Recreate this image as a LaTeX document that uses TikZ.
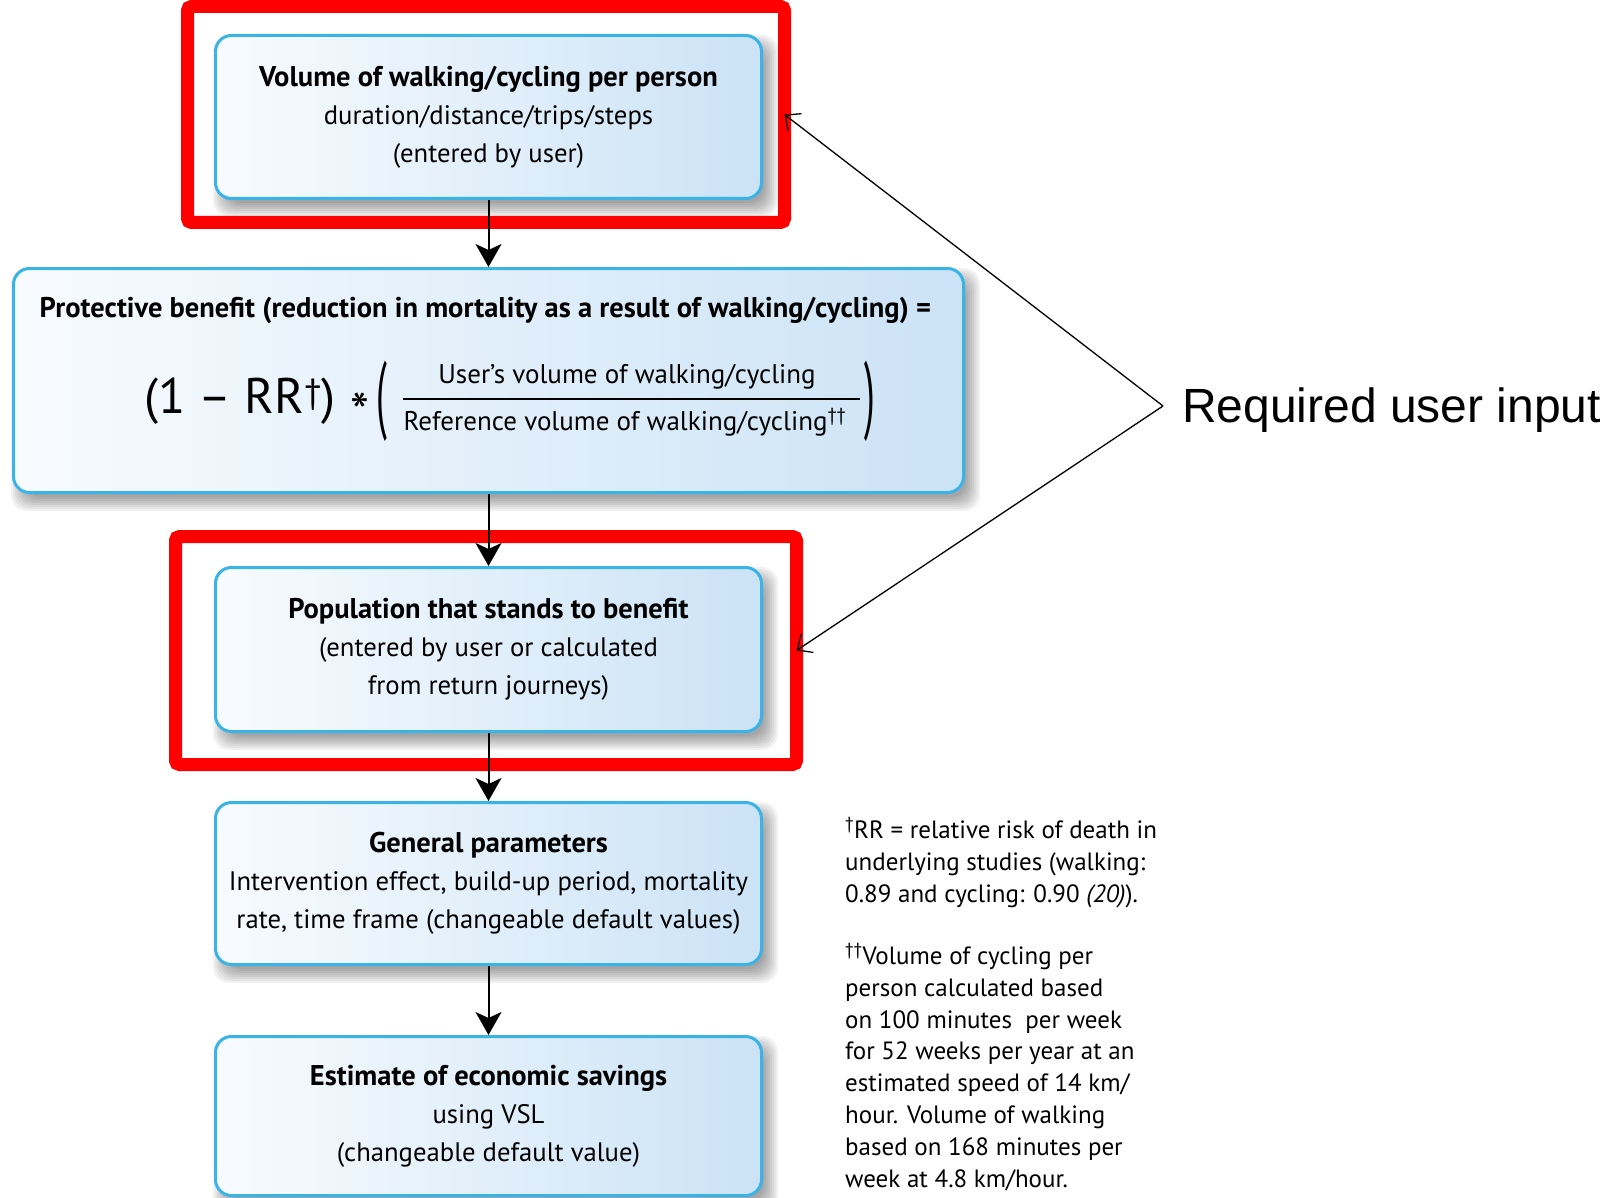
\documentclass[tikz,border=0pt]{standalone}
\usepackage{fontspec}
\setmainfont{PT Sans}
\newfontfamily\arialfont{Liberation Sans}
\usetikzlibrary{arrows.meta,calc,backgrounds}
\pgfdeclarelayer{paper}
\pgfsetlayers{paper,background,main}
\definecolor{boxborder}{HTML}{3AB3E6}
\definecolor{boxleft}{HTML}{F8FBFE}
\definecolor{boxright}{HTML}{CBE3F6}
\definecolor{redbox}{HTML}{FF0000}
\newcommand{\hd}[1]{{\fontsize{28.5}{38}\selectfont\bfseries #1}}
\tikzset{
  flowbox/.style={draw=boxborder, line width=3pt, rounded corners=16pt,
    left color=boxleft, right color=boxright, minimum width=546pt,
    align=center, inner sep=0pt, font=\fontsize{26.7}{38}\selectfont},
  redframe/.style={draw=redbox, line width=13pt, rounded corners=4pt,
    outer sep=0pt, inner sep=0pt},
  flowarrow/.style={draw=black, line width=2pt,
    -{Stealth[length=23pt,width=26pt,inset=6pt]}},
  inputarrow/.style={draw=black, line width=1.3pt,
    -{Straight Barb[length=12pt,width=22pt]}},
  note/.style={anchor=north west, align=left, inner sep=0pt,
    font=\fontsize{25}{31.8}\selectfont},
  boxtext/.style={inner sep=0pt, font=\fontsize{27}{38}\selectfont},
}
\begin{document}
\begin{tikzpicture}[x=1pt,y=-1pt]
\begin{pgfonlayer}{paper}
  \fill[white] (0,0) rectangle (1621,1198);
\end{pgfonlayer}
\useasboundingbox (0,0) rectangle (1621,1198);

% boxes
\node[flowbox, minimum height=163pt] (b1) at (488.5,117)
  {\hd{Volume of walking/cycling per person}\\
   duration/distance/trips/steps\\
   (entered by user)};
\node[flowbox, minimum width=950pt, minimum height=224pt] (b2) at (488.5,380.5) {};
\node[flowbox, minimum height=164pt] (b3) at (488.5,649.5)
  {\hd{Population that stands to benefit}\\
   (entered by user or calculated\\
   from return journeys)};
\node[flowbox, minimum height=162pt] (b4) at (488.5,883.5)
  {\hd{General parameters}\\
   Intervention effect, build-up period, mortality\\
   rate, time frame (changeable default values)};
\node[flowbox, minimum height=159pt] (b5) at (488.5,1116)
  {\hd{Estimate of economic savings}\\
   using VSL\\
   (changeable default value)};

% protective benefit contents
\node[boxtext, font=\bfseries\fontsize{28.5}{38}\selectfont] (title) at (485.5,310)
  {Protective benefit (reduction in mortality as a result of walking/cycling) =};
\node[inner sep=0pt, font=\fontsize{50}{50}\selectfont] (rr) at (240,401) {(1 – RR\textsuperscript{†})};
\node[inner sep=0pt, font=\fontsize{54}{54}\selectfont] (star) at (360,412) {*};
\node[inner sep=0pt, font=\fontsize{48}{48}\selectfont] (lp) at (382,401) {\scalebox{0.8}[1.8]{(}};
\node[inner sep=0pt, font=\fontsize{48}{48}\selectfont] (rp) at (870,401) {\scalebox{0.8}[1.8]{)}};
\node[boxtext] (num) at (627,377) {User’s volume of walking/cycling};
\node[boxtext] (den) at (625,422) {Reference volume of walking/cycling\textsuperscript{††}};
\draw[line width=2pt] (403,399) -- (860,399);

% red frames
\node[redframe, minimum width=597pt, minimum height=216pt] (r1) at (486,114.5) {};
\node[redframe, minimum width=621pt, minimum height=228pt] (r2) at (486,650.5) {};

% flow arrows
\draw[flowarrow] (b1.south) -- (b2.north);
\draw[flowarrow] (b2.south) -- (b3.north);
\draw[flowarrow] (b3.south) -- (b4.north);
\draw[flowarrow] (b4.south) -- (b5.north);

% required user input
\coordinate (apex) at (1163,406);
\node[anchor=west, inner sep=0pt, font=\arialfont\fontsize{48}{48}\selectfont] (req) at (1182,410) {Required user input};
\draw[inputarrow] (apex) -- (r1.east);
\draw[inputarrow] (apex) -- (r2.east);

% footnotes
\node[note] (fn1) at (845,817)
  {\textsuperscript{†}RR = relative risk of death in\\
   underlying studies (walking:\\
   0.89 and cycling: 0.90 \textit{(20)}).};
\node[note] (fn2) at (845,943)
  {\textsuperscript{††}Volume of cycling per\\
   person calculated based\\
   on 100 minutes\ \ per week\\
   for 52 weeks per year at an\\
   estimated speed of 14 km/\\
   hour. Volume of walking\\
   based on 168 minutes per\\
   week at 4.8 km/hour.};

% shadows
\begin{scope}[on background layer]
  \foreach \n in {b1,b2,b3,b4,b5}{
    \foreach \k in {-6,-4,...,8}{
      \fill[black, opacity=0.05, rounded corners=16pt]
        ($(\n.south west)+(7-\k,9+\k)$) rectangle ($(\n.north east)+(7+\k,9-\k)$);
    }
  }
\end{scope}
\end{tikzpicture}
\end{document}
